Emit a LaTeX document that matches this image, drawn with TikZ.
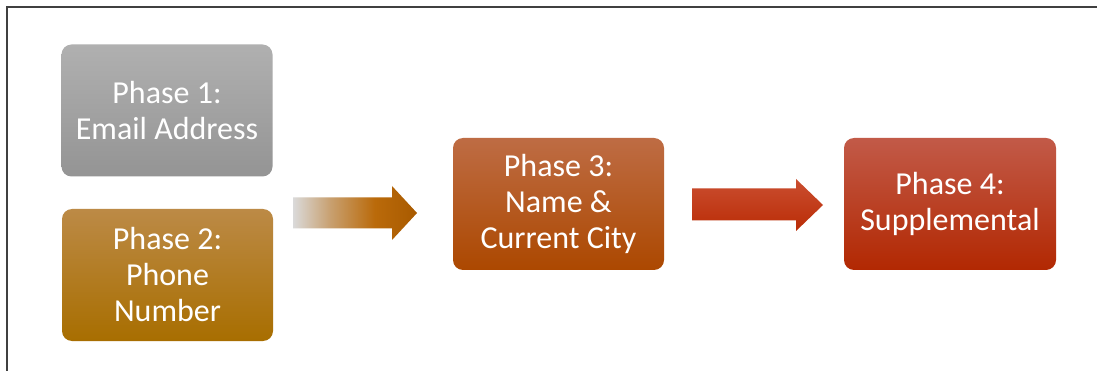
\documentclass[tikz,border=0pt]{standalone}
\usepackage{fontspec}
\setmainfont{Carlito}
\definecolor{frm}{RGB}{64,64,64}
\definecolor{boneT}{RGB}{176,176,176}
\definecolor{boneB}{RGB}{148,148,148}
\definecolor{btwoT}{RGB}{188,138,70}
\definecolor{btwoM}{RGB}{180,122,12}
\definecolor{btwoB}{RGB}{168,110,0}
\definecolor{bthrT}{RGB}{190,108,68}
\definecolor{bthrM}{RGB}{184,84,12}
\definecolor{bthrB}{RGB}{172,72,0}
\definecolor{bfouT}{RGB}{194,90,72}
\definecolor{bfouM}{RGB}{188,52,10}
\definecolor{bfouB}{RGB}{178,40,2}
\definecolor{aoneA}{RGB}{218,218,218}
\definecolor{aoneB}{RGB}{200,160,112}
\definecolor{aoneC}{RGB}{186,106,10}
\definecolor{aoneD}{RGB}{168,90,0}
\definecolor{atwoT}{RGB}{202,78,48}
\definecolor{atwoB}{RGB}{186,44,6}
\pgfdeclarehorizontalshading{arrowone}{100bp}{color(0bp)=(aoneA); color(25bp)=(aoneA); color(40bp)=(aoneB); color(58bp)=(aoneC); color(75bp)=(aoneD); color(100bp)=(aoneD)}
\tikzset{
  phasebox/.style={rounded corners=10pt, minimum width=211pt, minimum height=132pt,
    text=white, align=center, inner sep=0pt,
    font=\fontsize{32}{36}\selectfont},
}
\begin{document}
\begin{tikzpicture}[x=1pt,y=-1pt]
\useasboundingbox (0,0) rectangle (1097,371);
\fill[white] (0,0) rectangle (1097,371);
\draw[frm, line width=2pt] (7,371) -- (7,7) -- (1097,7);
\node[phasebox, top color=boneT, bottom color=boneB] (p1) at (167,110.5) {Phase 1:\\Email Address};
\node[phasebox, top color=btwoT, middle color=btwoM, bottom color=btwoB] (p2) at (167.5,275) {Phase 2:\\Phone\\Number};
\node[phasebox, top color=bthrT, middle color=bthrM, bottom color=bthrB] (p3) at (558.5,204) {Phase 3:\\Name \&\\Current City};
\node[phasebox, minimum width=212pt, top color=bfouT, middle color=bfouM, bottom color=bfouB] (p4) at (950,204) {Phase 4:\\Supplemental};
\coordinate (a1t) at (417,213);
\coordinate (a2t) at (823,205);
\shade[shading=arrowone] (293,197.5) -- (392,197.5) -- (392,186) -- (a1t) -- (392,240) -- (392,228.5) -- (293,228.5) -- cycle;
\shade[top color=atwoT, bottom color=atwoB] (692,188.5) -- (796,188.5) -- (796,179) -- (a2t) -- (796,231) -- (796,220.5) -- (692,220.5) -- cycle;
\end{tikzpicture}
\end{document}
